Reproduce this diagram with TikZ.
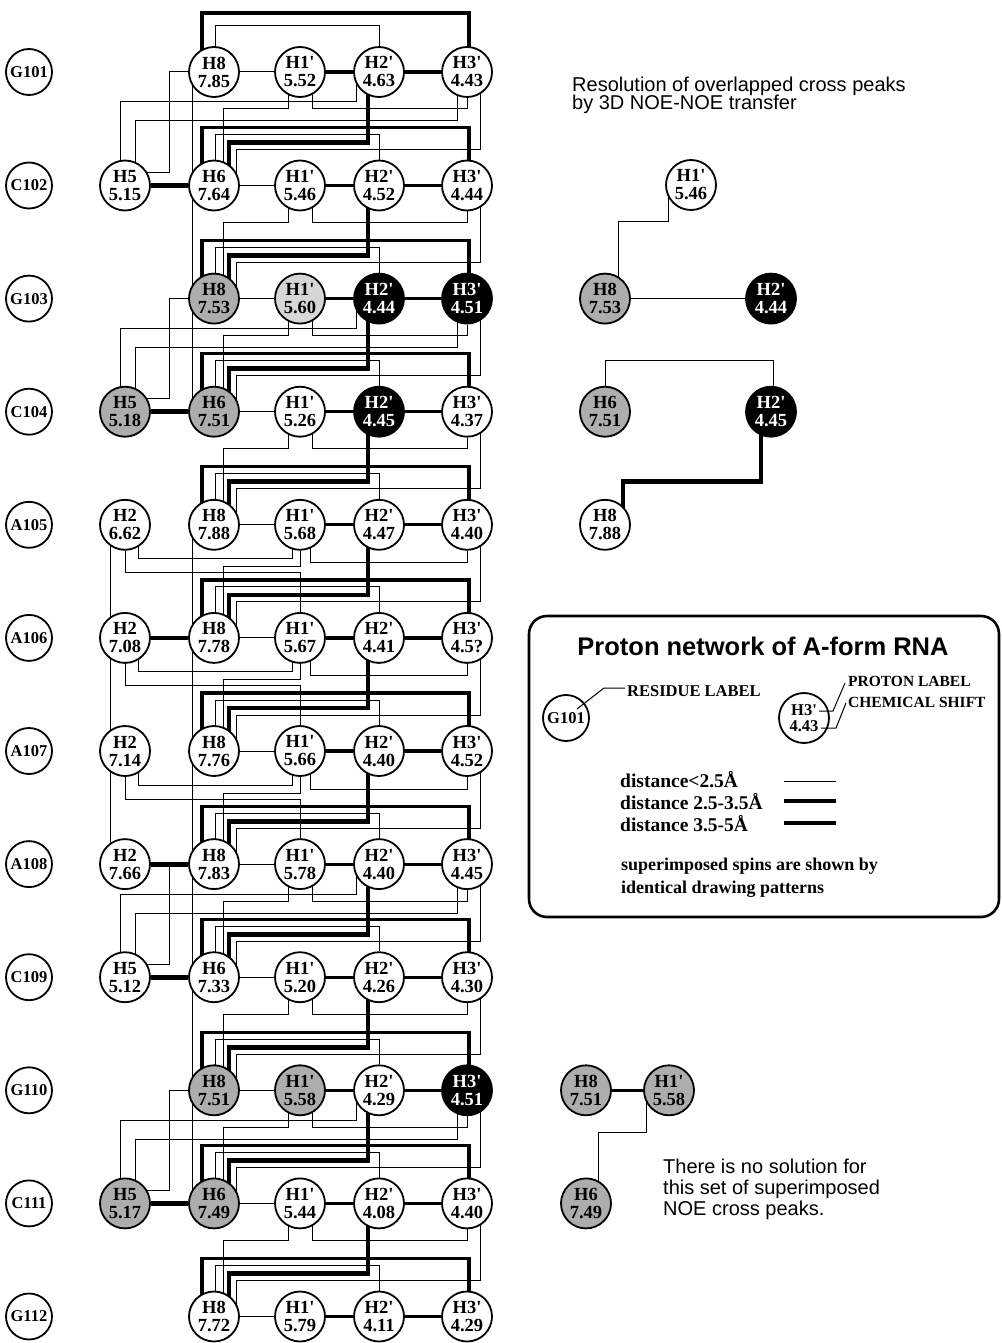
\documentclass[tikz,border=0pt]{standalone}
\usepackage{fontspec}
\setmainfont{Liberation Serif}
\newfontfamily\helv{Liberation Sans}
\usetikzlibrary{calc}
\pgfdeclarelayer{bg}
\pgfsetlayers{bg,main}
\newcommand{\apo}{\textquotesingle}
% lines entering row #2 from row #1 (medium/thin from above, thick and thin from row #1)
\newcommand{\mnfg}[2]{%
  \draw[med] ($(A#2)+(-12,0)$) |- ($(H#2)+(2,-58)$) -- ($(H#2)+(2,0)$);
  \draw[thn] ($(A#2)+(1,0)$) |- ($(T#2)+(0,-51)$) -- (T#2);
  \draw[thk] ($(T#1)+(-11,0)$) |- ($(A#2)+(15,-43)$) -- ($(A#2)+(15,0)$);
  \draw[thn] ($(H#1)+(13,0)$) |- ($(A#2)+(22,-36)$) -- ($(A#2)+(22,0)$);
}
\newcommand{\stdde}[2]{%
  \draw[thn] ($(O#1)+(-12,0)$) -- ++(0,37) -| ($(A#2)+(9,0)$);
  \draw[thn] ($(O#1)+(12,0)$) -- ++(0,37) -| (H#1);
}
\newcommand{\agap}[2]{%
  \draw[thn] ($(B#1)+(13,0)$) -- ++(0,34) -| ($(O#1)+(-8,0)$);
  \draw[thn] ($(O#1)+(10,0)$) -- ++(0,38) -| (H#1);
  \draw[thn] (O#1) -- ++(0,42) -| ($(A#2)+(9,0)$);
  \draw[thn] (B#1) -- ++(0,48) -| (O#2);
}
\newcommand{\abcl}[2]{%
  \draw[thn] ($(T#1)+(-23,0)$) -- ++(0,30) -| ($(B#2)+(-5,0)$);
  \draw[thn] ($(H#1)+(-10,0)$) -- ++(0,49) -| ($(B#2)+(10,0)$);
  \draw[thn] (A#1) -- ++(-45,0) |- ($(B#2)+(0,-13)$);
}
\begin{document}
\begin{tikzpicture}[x=1pt,y=-1pt,
  pn/.style={circle,draw,line width=1.8pt,minimum size=50pt,inner sep=0pt,fill=white,align=center,font=\fontsize{18.5}{18}\selectfont\bfseries},
  pdot/.style={pn,fill=black!32},
  pldot/.style={pn,fill=black!16},
  pblk/.style={pn,fill=black,text=white},
  rn/.style={circle,draw,line width=1.8pt,minimum size=46pt,inner sep=0pt,fill=white,font=\fontsize{16.5}{16.5}\selectfont\bfseries},
  thn/.style={line width=1pt},
  med/.style={line width=3.2pt},
  thk/.style={line width=4.8pt},
  txt/.style={inner sep=0pt,anchor=base west},
  htxt/.style={txt,font=\helv\fontsize{20}{20}\selectfont},
  ltxt/.style={txt,font=\fontsize{19.5}{19.5}\selectfont\bfseries},
]
\useasboundingbox (0,0) rectangle (1001,1343);
\begin{pgfonlayer}{bg}
\fill[white] (0,0) rectangle (1001,1343);
\end{pgfonlayer}

% ---------------- rows ----------------
\node[rn] (R1) at (29,72) {G101};
\node[pn] (A1) at (214,72) {H8\\7.85};
\node[pn] (O1) at (300,72) {H1\apo\\5.52};
\node[pn] (T1) at (379,72) {H2\apo\\4.63};
\node[pn] (H1) at (467,72) {H3\apo\\4.43};

\node[rn] (R2) at (29,185.5) {C102};
\node[pn] (B2) at (125,185.5) {H5\\5.15};
\node[pn] (A2) at (214,185.5) {H6\\7.64};
\node[pn] (O2) at (300,185.5) {H1\apo\\5.46};
\node[pn] (T2) at (379,185.5) {H2\apo\\4.52};
\node[pn] (H2) at (467,185.5) {H3\apo\\4.44};

\node[rn] (R3) at (29,298.6) {G103};
\node[pdot] (A3) at (214,298.6) {H8\\7.53};
\node[pldot] (O3) at (300,298.6) {H1\apo\\5.60};
\node[pblk] (T3) at (379,298.6) {H2\apo\\4.44};
\node[pblk] (H3) at (467,298.6) {H3\apo\\4.51};

\node[rn] (R4) at (29,411.7) {C104};
\node[pdot] (B4) at (125,411.7) {H5\\5.18};
\node[pdot] (A4) at (214,411.7) {H6\\7.51};
\node[pn] (O4) at (300,411.7) {H1\apo\\5.26};
\node[pblk] (T4) at (379,411.7) {H2\apo\\4.45};
\node[pn] (H4) at (467,411.7) {H3\apo\\4.37};

\node[rn] (R5) at (29,524.8) {A105};
\node[pn] (B5) at (125,524.8) {H2\\6.62};
\node[pn] (A5) at (214,524.8) {H8\\7.88};
\node[pn] (O5) at (300,524.8) {H1\apo\\5.68};
\node[pn] (T5) at (379,524.8) {H2\apo\\4.47};
\node[pn] (H5) at (467,524.8) {H3\apo\\4.40};

\node[rn] (R6) at (29,637.9) {A106};
\node[pn] (B6) at (125,637.9) {H2\\7.08};
\node[pn] (A6) at (214,637.9) {H8\\7.78};
\node[pn] (O6) at (300,637.9) {H1\apo\\5.67};
\node[pn] (T6) at (379,637.9) {H2\apo\\4.41};
\node[pn] (H6) at (467,637.9) {H3\apo\\4.5?};

\node[rn] (R7) at (29,751) {A107};
\node[pn] (B7) at (125,751) {H2\\7.14};
\node[pn] (A7) at (214,751) {H8\\7.76};
\node[pn] (O7) at (300,751) {H1\apo\\5.66};
\node[pn] (T7) at (379,751) {H2\apo\\4.40};
\node[pn] (H7) at (467,751) {H3\apo\\4.52};

\node[rn] (R8) at (29,864.1) {A108};
\node[pn] (B8) at (125,864.1) {H2\\7.66};
\node[pn] (A8) at (214,864.1) {H8\\7.83};
\node[pn] (O8) at (300,864.1) {H1\apo\\5.78};
\node[pn] (T8) at (379,864.1) {H2\apo\\4.40};
\node[pn] (H8) at (467,864.1) {H3\apo\\4.45};

\node[rn] (R9) at (29,977.2) {C109};
\node[pn] (B9) at (125,977.2) {H5\\5.12};
\node[pn] (A9) at (214,977.2) {H6\\7.33};
\node[pn] (O9) at (300,977.2) {H1\apo\\5.20};
\node[pn] (T9) at (379,977.2) {H2\apo\\4.26};
\node[pn] (H9) at (467,977.2) {H3\apo\\4.30};

\node[rn] (R10) at (29,1090.3) {G110};
\node[pdot] (A10) at (214,1090.3) {H8\\7.51};
\node[pdot] (O10) at (300,1090.3) {H1\apo\\5.58};
\node[pn] (T10) at (379,1090.3) {H2\apo\\4.29};
\node[pblk] (H10) at (467,1090.3) {H3\apo\\4.51};

\node[rn] (R11) at (29,1203.4) {C111};
\node[pdot] (B11) at (125,1203.4) {H5\\5.17};
\node[pdot] (A11) at (214,1203.4) {H6\\7.49};
\node[pn] (O11) at (300,1203.4) {H1\apo\\5.44};
\node[pn] (T11) at (379,1203.4) {H2\apo\\4.08};
\node[pn] (H11) at (467,1203.4) {H3\apo\\4.40};

\node[rn] (R12) at (29,1316.5) {G112};
\node[pn] (A12) at (214,1316.5) {H8\\7.72};
\node[pn] (O12) at (300,1316.5) {H1\apo\\5.79};
\node[pn] (T12) at (379,1316.5) {H2\apo\\4.11};
\node[pn] (H12) at (467,1316.5) {H3\apo\\4.29};

% ---------------- connectors ----------------
\begin{pgfonlayer}{bg}
  \foreach \k in {1,...,12} {
    \draw[thn] (A\k) -- (O\k);
    \draw[med] (O\k) -- (T\k);
    \draw[med] (T\k) -- (H\k);
  }
  \foreach \k in {2,4,6,8,9,11} { \draw[thk] (B\k) -- (A\k); }
  % top of residue 1
  \draw[med] ($(A1)+(-12,0)$) |- ($(H1)+(2,-59)$) -- ($(H1)+(2,0)$);
  \draw[thn] ($(A1)+(1,0)$) |- ($(T1)+(0,-46)$) -- (T1);
  % gaps
  \mnfg{1}{2}\mnfg{2}{3}\mnfg{3}{4}\mnfg{4}{5}\mnfg{5}{6}\mnfg{6}{7}
  \mnfg{7}{8}\mnfg{8}{9}\mnfg{9}{10}\mnfg{10}{11}\mnfg{11}{12}
  \stdde{1}{2}\stdde{2}{3}\stdde{3}{4}\stdde{4}{5}
  \stdde{8}{9}\stdde{9}{10}\stdde{10}{11}\stdde{11}{12}
  \agap{5}{6}\agap{6}{7}\agap{7}{8}
  \abcl{1}{2}\abcl{3}{4}\abcl{8}{9}\abcl{10}{11}
  % long vertical chains
  \draw[thn] ($(A1)+(-22,0)$) -- ($(A4)+(-22,0)$);
  \draw[thn] ($(A5)+(-22,0)$) -- ($(A11)+(-22,0)$);
  \draw[thn] ($(B5)+(-15,0)$) -- ($(B8)+(-15,0)$);
\end{pgfonlayer}

% ---------------- right panel: 3D NOE-NOE ----------------
\node[htxt] (rt1) at (572,92) {Resolution of overlapped cross peaks};
\node[htxt] (rt2) at (572,110) {by 3D NOE-NOE transfer};

\node[pn] (q1) at (691,185) {H1\apo\\5.46};
\node[pdot] (q2) at (605,298.6) {H8\\7.53};
\node[pblk] (q3) at (771,298.6) {H2\apo\\4.44};
\node[pdot] (q4) at (605,411.7) {H6\\7.51};
\node[pblk] (q5) at (771,411.7) {H2\apo\\4.45};
\node[pn] (q6) at (605,524.8) {H8\\7.88};

\node[pdot] (q7) at (586,1090.3) {H8\\7.51};
\node[pdot] (q8) at (669,1090.3) {H1\apo\\5.58};
\node[pdot] (q9) at (586,1203.4) {H6\\7.49};

\node[htxt] (nt1) at (663,1173) {There is no solution for};
\node[htxt] (nt2) at (663,1194) {this set of superimposed};
\node[htxt] (nt3) at (663,1215) {NOE cross peaks.};

\begin{pgfonlayer}{bg}
  \draw[thn] (q2) -- (q3);
  \draw[thn] ($(q2)+(13,0)$) |- ($(q1)+(-23,36)$) -- ($(q1)+(-23,0)$);
  \draw[thn] (q4) |- ($(q5)+(2,-51)$) -- ($(q5)+(2,0)$);
  \draw[thk] ($(q5)+(-10,0)$) |- ($(q6)+(18,-43)$) -- ($(q6)+(18,0)$);
  \draw[med] (q7) -- (q8);
  \draw[thn] ($(q8)+(-23,0)$) |- ($(q9)+(12,-71)$) -- ($(q9)+(12,0)$);
\end{pgfonlayer}

% ---------------- legend ----------------
\draw[line width=2.6pt,rounded corners=18pt] (529,616) rectangle (999,917);
\node[anchor=base,inner sep=0pt,font=\helv\bfseries\fontsize{25.5}{25.5}\selectfont] (ltitle) at (763,655) {Proton network of A-form RNA};

\node[rn] (lr) at (566,718) {G101};
\node[txt,font=\fontsize{16.5}{16.5}\selectfont\bfseries] (lrt) at (627,696) {RESIDUE LABEL};
\draw[thn] ($(lr)+(11,-9)$) -- ($(lr)+(38,-30)$) -- ($(lrt.base west)+(-2,-8)$);

\node[pn,font=\fontsize{16.5}{16.5}\selectfont\bfseries] (lh) at (804,718) {H3\apo\\4.43};
\node[txt,font=\fontsize{15.5}{15.5}\selectfont\bfseries] (plt) at (848,686) {PROTON LABEL};
\node[txt,font=\fontsize{15.5}{15.5}\selectfont\bfseries] (cst) at (848,707) {CHEMICAL SHIFT};
\draw[thn] ($(lh)+(15,-7)$) -- ($(lh)+(29,-7)$) -- ($(plt.base west)+(-3,-3)$);
\draw[thn] ($(lh)+(17,10)$) -- ($(lh)+(32,10)$) -- ($(cst.base west)+(-2,-4)$);

\node[ltxt] (d1) at (620,787) {distance<2.5Å};
\node[ltxt] (d2) at (620,809) {distance 2.5-3.5Å};
\node[ltxt] (d3) at (620,831) {distance 3.5-5Å};
\draw[thn] (784,781) -- (836,781);
\draw[med] (784,801) -- (836,801);
\draw[thk] (784,823) -- (836,823);

\node[txt,font=\fontsize{18}{18}\selectfont\bfseries] (s1) at (621,870) {superimposed spins are shown by};
\node[txt,font=\fontsize{18}{18}\selectfont\bfseries] (s2) at (621,893) {identical drawing patterns};
\end{tikzpicture}
\end{document}
